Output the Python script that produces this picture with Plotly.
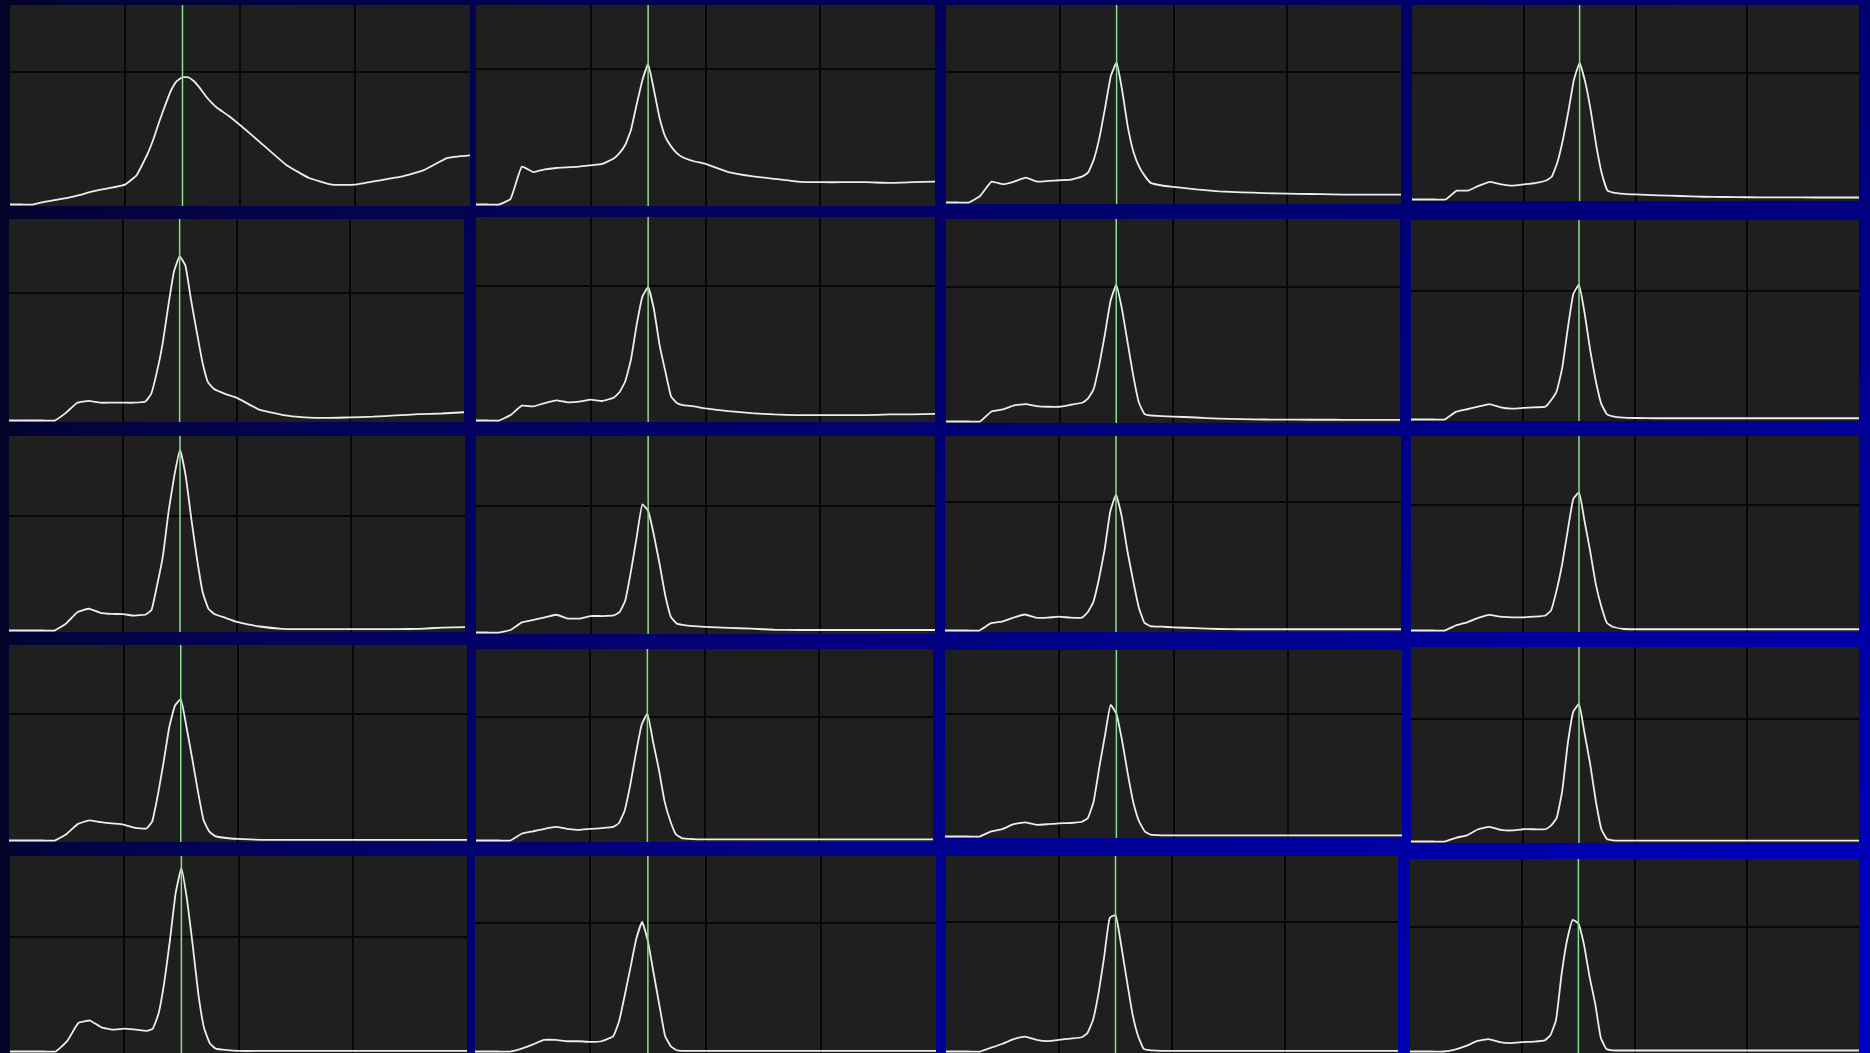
import base64
import struct
import zlib

import numpy as np
import plotly.graph_objects as go

FIG_W, FIG_H = 1870, 1053

# ---------------- data ----------------
X = [0.0, 0.1, 0.2, 0.3, 0.4, 0.5, 0.6, 0.7, 0.8, 0.9, 1.0, 1.1, 1.2, 1.25, 1.3,
     1.35, 1.4, 1.45, 1.5, 1.55, 1.6, 1.65, 1.7, 1.75, 1.8, 1.9, 2.0, 2.2, 2.4,
     2.6, 2.8, 3.0, 3.2, 3.4, 3.6, 3.8, 4.0]

R1C1 = [0, 0, 0, 0.02, 0.035, 0.05, 0.07, 0.095, 0.115, 0.13, 0.15, 0.22, 0.39, 0.50, 0.63,
        0.75, 0.86, 0.93, 0.96, 0.96, 0.93, 0.88, 0.82, 0.77, 0.73, 0.67, 0.60, 0.45, 0.30,
        0.20, 0.15, 0.15, 0.18, 0.21, 0.26, 0.35, 0.37]
R1C2 = [0, 0, 0, 0.04, 0.28, 0.24, 0.26, 0.27, 0.275, 0.28, 0.29, 0.30, 0.34, 0.38, 0.44,
        0.55, 0.74, 0.92, 1.04, 0.85, 0.64, 0.50, 0.43, 0.38, 0.35, 0.32, 0.30, 0.24, 0.21,
        0.19, 0.17, 0.165, 0.165, 0.165, 0.16, 0.165, 0.17]
R1C3 = [0, 0, 0, 0.05, 0.16, 0.14, 0.16, 0.19, 0.16, 0.165, 0.17, 0.175, 0.20, 0.23, 0.33,
        0.50, 0.73, 0.97, 1.07, 0.85, 0.57, 0.38, 0.27, 0.20, 0.15, 0.13, 0.12, 0.10, 0.085,
        0.078, 0.072, 0.068, 0.065, 0.062, 0.06, 0.06, 0.06]
R1C4 = [0, 0, 0, 0, 0.07, 0.07, 0.11, 0.14, 0.12, 0.11, 0.12, 0.13, 0.15, 0.18, 0.29,
        0.47, 0.70, 0.95, 1.08, 0.93, 0.70, 0.42, 0.20, 0.07, 0.055, 0.045, 0.04, 0.033, 0.028,
        0.022, 0.02, 0.018, 0.017, 0.017, 0.016, 0.016, 0.016]

R2C1 = [0, 0, 0, 0, 0, 0.06, 0.14, 0.155, 0.14, 0.14, 0.14, 0.14, 0.15, 0.21, 0.38,
        0.60, 0.90, 1.17, 1.29, 1.22, 0.95, 0.70, 0.46, 0.30, 0.25, 0.21, 0.18, 0.085, 0.045,
        0.025, 0.02, 0.025, 0.03, 0.04, 0.05, 0.055, 0.065]
R2C2 = [0, 0, 0, 0.04, 0.11, 0.105, 0.13, 0.15, 0.135, 0.14, 0.155, 0.145, 0.17, 0.21, 0.29,
        0.45, 0.71, 0.92, 0.99, 0.83, 0.56, 0.365, 0.18, 0.13, 0.115, 0.105, 0.09, 0.07, 0.055,
        0.045, 0.04, 0.04, 0.04, 0.04, 0.045, 0.045, 0.05]
R2C3 = [0, 0, 0, 0, 0.075, 0.09, 0.12, 0.13, 0.115, 0.11, 0.11, 0.125, 0.14, 0.17, 0.24,
        0.42, 0.65, 0.90, 1.02, 0.84, 0.59, 0.34, 0.14, 0.055, 0.045, 0.04, 0.037, 0.03, 0.022,
        0.018, 0.015, 0.014, 0.013, 0.013, 0.012, 0.012, 0.012]
R2C4 = [0, 0, 0, 0, 0.06, 0.08, 0.10, 0.12, 0.095, 0.085, 0.09, 0.095, 0.10, 0.15, 0.22,
        0.40, 0.71, 0.98, 1.05, 0.83, 0.54, 0.30, 0.12, 0.04, 0.025, 0.015, 0.012, 0.01, 0.01,
        0.01, 0.01, 0.01, 0.01, 0.01, 0.01, 0.01, 0.01]

R3C1 = [0, 0, 0, 0, 0, 0.06, 0.16, 0.19, 0.155, 0.145, 0.143, 0.13, 0.14, 0.18, 0.40,
        0.65, 1.04, 1.35, 1.58, 1.35, 0.97, 0.62, 0.33, 0.19, 0.145, 0.11, 0.075, 0.035, 0.015,
        0.012, 0.012, 0.012, 0.012, 0.012, 0.015, 0.025, 0.03]
R3C2 = [0, 0, 0, 0.02, 0.08, 0.10, 0.12, 0.14, 0.11, 0.11, 0.13, 0.13, 0.135, 0.16, 0.25,
        0.48, 0.75, 1.01, 0.96, 0.77, 0.54, 0.29, 0.12, 0.07, 0.06, 0.05, 0.045, 0.037, 0.03,
        0.022, 0.02, 0.02, 0.02, 0.02, 0.02, 0.02, 0.02]
R3C3 = [0, 0, 0, 0, 0.055, 0.07, 0.10, 0.125, 0.10, 0.10, 0.108, 0.10, 0.10, 0.14, 0.22,
        0.40, 0.63, 0.93, 1.06, 0.89, 0.62, 0.39, 0.18, 0.06, 0.035, 0.03, 0.025, 0.018, 0.012,
        0.01, 0.01, 0.01, 0.01, 0.01, 0.01, 0.01, 0.01]
R3C4 = [0, 0, 0, 0, 0.04, 0.065, 0.10, 0.125, 0.11, 0.105, 0.105, 0.11, 0.12, 0.16, 0.32,
        0.53, 0.80, 1.05, 1.10, 0.87, 0.63, 0.37, 0.19, 0.06, 0.03, 0.012, 0.01, 0.01, 0.01,
        0.01, 0.01, 0.01, 0.01, 0.01, 0.01, 0.01, 0.01]

R4C1 = [0, 0, 0, 0, 0, 0.05, 0.13, 0.16, 0.145, 0.135, 0.126, 0.10, 0.095, 0.15, 0.36,
        0.62, 0.90, 1.07, 1.12, 0.90, 0.65, 0.39, 0.16, 0.07, 0.035, 0.02, 0.013, 0.005, 0.005,
        0.005, 0.005, 0.005, 0.005, 0.005, 0.005, 0.005, 0.005]
R4C2 = [0, 0, 0, 0, 0.055, 0.075, 0.095, 0.11, 0.095, 0.086, 0.094, 0.10, 0.11, 0.14, 0.24,
        0.45, 0.71, 0.94, 1.03, 0.80, 0.58, 0.32, 0.16, 0.05, 0.02, 0.012, 0.01, 0.01, 0.01,
        0.01, 0.01, 0.01, 0.01, 0.01, 0.01, 0.01, 0.01]
R4C3 = [0, 0, 0, 0, 0.04, 0.06, 0.10, 0.115, 0.095, 0.10, 0.107, 0.11, 0.12, 0.15, 0.28,
        0.56, 0.82, 1.07, 1.00, 0.78, 0.51, 0.27, 0.12, 0.04, 0.015, 0.01, 0.01, 0.01, 0.01,
        0.01, 0.01, 0.01, 0.01, 0.01, 0.01, 0.01, 0.01]
R4C4 = [0, 0, 0, 0, 0.03, 0.05, 0.10, 0.12, 0.095, 0.09, 0.10, 0.10, 0.10, 0.13, 0.19,
        0.41, 0.80, 1.06, 1.12, 0.88, 0.63, 0.33, 0.10, 0.02, 0.01, 0.008, 0.008, 0.008, 0.008,
        0.008, 0.008, 0.008, 0.008, 0.008, 0.008, 0.008, 0.008]

R5C1 = [0, 0, 0, 0, 0, 0.09, 0.25, 0.27, 0.21, 0.19, 0.20, 0.19, 0.18, 0.20, 0.33,
        0.60, 0.97, 1.38, 1.60, 1.32, 0.92, 0.49, 0.20, 0.07, 0.025, 0.012, 0.005, 0.005, 0.005,
        0.005, 0.005, 0.005, 0.005, 0.005, 0.005, 0.005, 0.005]
R5C2 = [0, 0, 0, 0, 0.02, 0.054, 0.09, 0.09, 0.08, 0.08, 0.075, 0.08, 0.12, 0.235, 0.44,
        0.66, 0.88, 1.01, 0.86, 0.61, 0.36, 0.12, 0.04, 0.01, 0.005, 0.005, 0.005, 0.005, 0.005,
        0.005, 0.005, 0.005, 0.005, 0.005, 0.005, 0.005, 0.005]
R5C3 = [0, 0, 0, 0, 0.03, 0.06, 0.095, 0.115, 0.09, 0.08, 0.09, 0.10, 0.11, 0.14, 0.24,
        0.45, 0.73, 1.03, 1.05, 0.82, 0.55, 0.29, 0.12, 0.02, 0.01, 0.005, 0.005, 0.005, 0.005,
        0.005, 0.005, 0.005, 0.005, 0.005, 0.005, 0.005, 0.005]
R5C4 = [0, 0, 0, 0, 0.015, 0.045, 0.085, 0.10, 0.075, 0.068, 0.075, 0.08, 0.09, 0.13, 0.25,
        0.62, 0.90, 1.06, 1.03, 0.86, 0.60, 0.385, 0.11, 0.02, 0.01, 0.008, 0.008, 0.008, 0.008,
        0.008, 0.008, 0.008, 0.008, 0.008, 0.008, 0.008, 0.008]

SPECTRA = [R1C1, R1C2, R1C3, R1C4,
           R2C1, R2C2, R2C3, R2C4,
           R3C1, R3C2, R3C3, R3C4,
           R4C1, R4C2, R4C3, R4C4,
           R5C1, R5C2, R5C3, R5C4]

MARKER_X = 1.5           # position of the green reference line
X_GRID = [1, 2, 3]       # vertical grid lines
Y_GRID = [1.0]           # horizontal grid line

# ---------------- layout helpers ----------------
# panel boxes in pixels: (left, right, top, bottom)
BOXES = [
    (10, 470, 5, 206), (476, 935, 5, 206), (946, 1401, 5, 204), (1412, 1859, 5, 201),
    (9, 464, 219, 422), (476, 935, 217, 422), (946, 1400, 219, 423), (1411, 1859, 220, 421),
    (9, 465, 436, 632), (476, 935, 436, 634), (945, 1401, 436, 632), (1411, 1859, 436, 632),
    (9, 467, 645, 842), (476, 933, 649, 842), (945, 1402, 650, 838), (1411, 1859, 647, 843),
    (10, 467, 856, 1053), (475, 936, 856, 1053), (946, 1398, 856, 1053), (1410, 1859, 859, 1053),
]
# fraction of the panel height at which the horizontal grid line sits
GRID_FRAC = [0.667, 0.68, 0.665, 0.653,
             0.634, 0.664, 0.665, 0.646,
             0.592, 0.648, 0.662, 0.648,
             0.648, 0.646, 0.662, 0.634,
             0.59, 0.659, 0.667, 0.648]


def gradient_png(w, h):
    xf = np.linspace(0, 1, w)[None, :]
    yf = np.linspace(0, 1, h)[:, None]
    b = 40 + (xf ** 0.5) * (74 + 88 * yf)
    rg = 4 * (1 - xf) + 0 * yf
    img = np.zeros((h, w, 3), dtype=np.uint8)
    img[..., 0] = np.clip(rg, 0, 255).astype(np.uint8)
    img[..., 1] = np.clip(rg, 0, 255).astype(np.uint8)
    img[..., 2] = np.clip(b, 0, 255).astype(np.uint8)
    raw = b"".join(b"\x00" + img[r].tobytes() for r in range(h))

    def chunk(tag, data):
        c = struct.pack(">I", len(data)) + tag + data
        return c + struct.pack(">I", zlib.crc32(tag + data) & 0xFFFFFFFF)

    png = (b"\x89PNG\r\n\x1a\n"
           + chunk(b"IHDR", struct.pack(">IIBBBBB", w, h, 8, 2, 0, 0, 0))
           + chunk(b"IDAT", zlib.compress(raw, 9))
           + chunk(b"IEND", b""))
    return "data:image/png;base64," + base64.b64encode(png).decode()


fig = go.Figure()
layout = {}
shapes = []

for i, (ys, box, frac) in enumerate(zip(SPECTRA, BOXES, GRID_FRAC)):
    n = i + 1
    sfx = "" if n == 1 else str(n)
    xref, yref = "x" + sfx, "y" + sfx
    left, right, top, bottom = box
    height_px = bottom - top
    ymin = -1.5 / (frac * height_px)
    ymax = ymin + (1 - ymin) / frac

    fig.add_trace(go.Scatter(
        x=X, y=ys, xaxis=xref, yaxis=yref, mode="lines",
        line=dict(color="#ededed", width=1.8, shape="spline", smoothing=0.35),
        hoverinfo="skip", showlegend=False,
    ))

    common = dict(showticklabels=False, ticks="", showline=False, zeroline=False,
                  showgrid=True, gridcolor="#070707", gridwidth=1.5, fixedrange=True)
    layout["xaxis" + sfx] = dict(domain=[left / FIG_W, right / FIG_W], range=[0, 4],
                                 tickmode="array", tickvals=X_GRID, anchor=yref, **common)
    layout["yaxis" + sfx] = dict(domain=[1 - bottom / FIG_H, 1 - top / FIG_H],
                                 range=[ymin, ymax], tickmode="array", tickvals=Y_GRID,
                                 anchor=xref, **common)

    # panel background (drawn above the gradient image)
    shapes.append(dict(type="rect", xref=xref + " domain", yref=yref + " domain",
                       x0=0, x1=1, y0=0, y1=1, fillcolor="#1f1f1f",
                       line=dict(width=0), layer="below"))
    # green reference line
    shapes.append(dict(type="line", xref=xref, yref=yref + " domain",
                       x0=MARKER_X, x1=MARKER_X, y0=0, y1=1,
                       line=dict(color="#8fdc8f", width=1.5), layer="above"))

fig.update_layout(
    width=FIG_W, height=FIG_H,
    margin=dict(l=0, r=0, t=0, b=0),
    paper_bgcolor="#000060",
    plot_bgcolor="rgba(0,0,0,0)",
    showlegend=False,
    shapes=shapes,
    images=[dict(source=gradient_png(188, 106), xref="paper", yref="paper",
                 x=0, y=1, sizex=1, sizey=1, sizing="stretch",
                 xanchor="left", yanchor="top", layer="below")],
    **layout,
)

fig.write_html(
    "out.html",
    config={"displayModeBar": False},
    post_script="document.body.style.margin='0';document.body.style.padding='0';"
                "document.body.style.overflow='hidden';",
)
